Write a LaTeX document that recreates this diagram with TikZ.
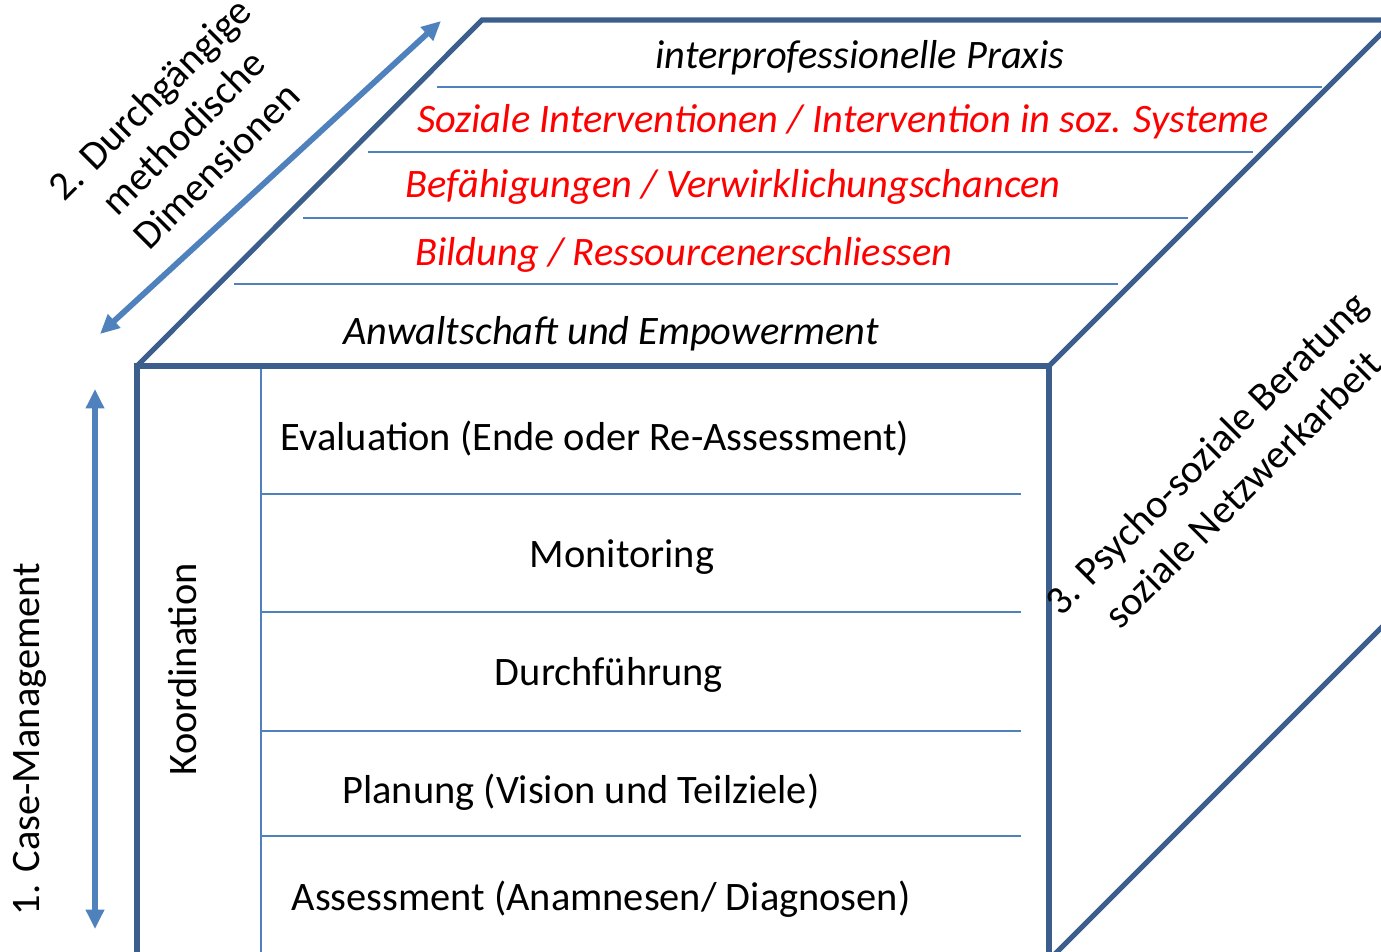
\documentclass[tikz,border=0pt]{standalone}
\usepackage{fontspec}
\setmainfont{Carlito}
\usetikzlibrary{arrows.meta}
\definecolor{edgeblue}{HTML}{3B5E8C}
\definecolor{lineblue}{HTML}{4F81BD}
\definecolor{txtred}{HTML}{FF0000}
\tikzset{
  thickedge/.style={draw=edgeblue, line width=2.9pt, line join=miter},
  thinline/.style={draw=lineblue, line width=1.1pt},
  dblarrow/.style={draw=lineblue, line width=3.3pt, {Triangle[length=11pt,width=10pt]}-{Triangle[length=11pt,width=10pt]}},
  lbl/.style={inner sep=0pt, font=\fontsize{23}{28}\selectfont},
  toplbl/.style={lbl, font=\fontsize{23}{28}\selectfont\itshape},
  redlbl/.style={toplbl, text=txtred},
}
\begin{document}
\begin{tikzpicture}[x=0.02cm, y=-0.02cm]
\useasboundingbox (0,0) rectangle (1381,952);
% coordinates of the cube
\coordinate (ftl) at (137,366);
\coordinate (ftr) at (1049,366);
\coordinate (fbl) at (137,960);
\coordinate (fbr) at (1049,960);
\coordinate (btl) at (482,20);
\coordinate (btr) at (1400,20);
\coordinate (bbr) at (1400,609);
% inner thin lines of front face
\draw[thinline] (261,366) -- (261,960);
\foreach \yy in {494,612,731,836} \draw[thinline] (261,\yy) -- (1021,\yy);
% top face thin lines
\draw[thinline] (437,87) -- (1322,87);
\draw[thinline] (368,152) -- (1253,152);
\draw[thinline] (303,218) -- (1188,218);
\draw[thinline] (234,284) -- (1118,284);
% cube edges
\draw[thickedge] (fbl) -- (ftl) -- (ftr) -- (fbr);
\draw[thickedge] (ftl) -- (btl) -- (btr);
\draw[thickedge] (ftr) -- (1400,15);
\draw[thickedge] (fbr) -- (bbr);
% arrows
\coordinate (a2s) at (100,334);
\coordinate (a2e) at (441,21);
\draw[dblarrow] (a2s) -- (a2e);
\coordinate (a1s) at (95,389);
\coordinate (a1e) at (95,929);
\draw[dblarrow] (a1s) -- (a1e);
% top face texts
\node[toplbl] (t1) at (860,58) {interprofessionelle Praxis};
\node[redlbl] (t2) at (843,122) {Soziale Interventionen / Intervention in soz. Systeme};
\node[redlbl] (t3) at (733,187) {Befähigungen / Verwirklichungschancen};
\node[redlbl] (t4) at (684,255) {Bildung / Ressourcenerschliessen};
\node[toplbl] (t5) at (611,334) {Anwaltschaft und Empowerment};
% front face texts
\node[lbl] (f1) at (595,439) {Evaluation (Ende oder Re-Assessment)};
\node[lbl] (f2) at (622,557) {Monitoring};
\node[lbl] (f3) at (609,675) {Durchführung};
\node[lbl] (f4) at (581,792) {Planung (Vision und Teilziele)};
\node[lbl] (f5) at (601,899) {Assessment (Anamnesen/ Diagnosen)};
\node[lbl, rotate=90] (koord) at (183,669) {Koordination};
\node[lbl, rotate=90] (cm) at (30,739) {1. Case-Management};
\node[lbl, rotate=45, align=center, font=\fontsize{23}{27}\selectfont] (dim) at (183,132) {2. Durchgängige\\methodische\\Dimensionen};
\node[lbl, rotate=45, align=center, font=\fontsize{23}{29}\selectfont] (psy) at (1224,471) {3. Psycho-soziale Beratung\\soziale Netzwerkarbeit};
\end{tikzpicture}
\end{document}
